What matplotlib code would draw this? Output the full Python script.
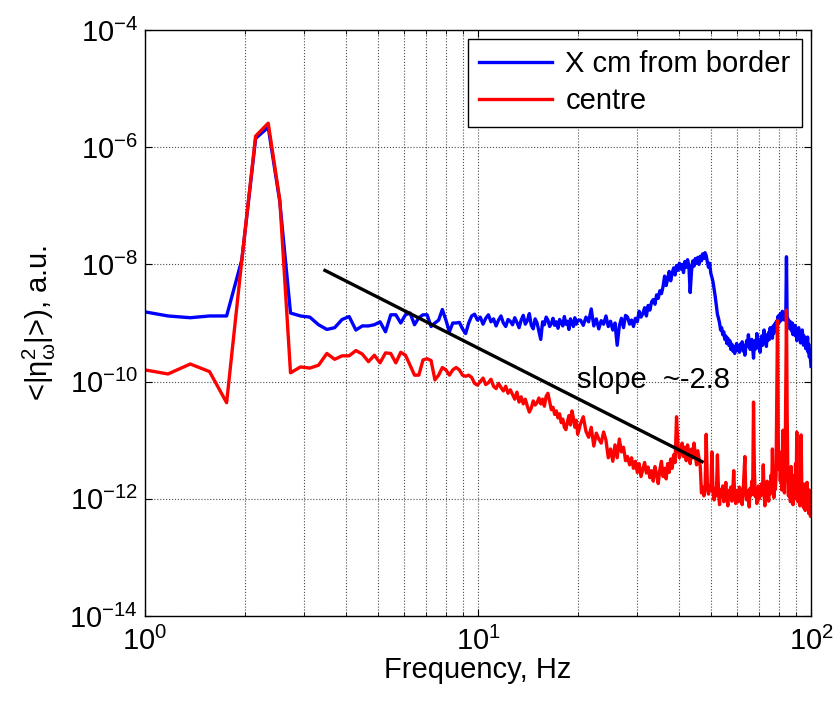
import matplotlib
matplotlib.use("Agg")
import matplotlib.pyplot as plt
import numpy as np
from matplotlib.ticker import FixedLocator, NullLocator, NullFormatter

# spectrum bins (FFT bin index); df = 100/512 Hz
df = 100.0 / 512
bins = np.r_[5:103, 104:513:2]

# log10 of the spectra
blue_log = [
    # k 5..51
    -8.80, -8.88, -8.91, -8.88, -8.88, -7.92, -5.85, -5.66, -6.93, -8.83,
    -8.88, -8.90, -9.03, -9.11, -9.08, -8.94, -8.89, -9.12, -9.05, -9.05,
    -9.03, -8.98, -9.15, -8.86, -8.86, -9.00, -8.86, -8.83, -9.03, -8.91,
    -8.86, -8.86, -9.06, -9.00, -8.95, -8.77, -8.95, -9.15, -9.00, -9.00,
    -8.99, -9.10, -9.18, -9.00, -8.88, -8.85, -8.95,
    # k 52..102
    -8.90, -9.02, -8.92, -8.86, -8.98, -8.93, -9.05, -8.95, -8.88, -9.00,
    -9.06, -8.94, -8.97, -9.03, -8.91, -8.99, -9.08, -8.95, -8.87, -9.02,
    -8.96, -8.84, -9.04, -9.10, -8.93, -9.00, -9.14, -9.28, -8.98, -9.03,
    -8.90, -8.95, -9.06, -9.01, -8.92, -9.04, -8.98, -9.09, -8.94, -9.00,
    -9.05, -8.89, -9.02, -8.97, -9.11, -8.93, -8.99, -9.06, -8.91, -9.02,
    -8.96,
    # k 104..142 step 2
    -8.95, -9.04, -8.90, -8.98, -8.76, -9.05, -8.93, -9.10, -8.96, -9.02,
    -8.88, -9.06, -8.97, -9.12, -9.00, -9.38, -9.05, -8.92, -9.08, -8.87,
    # k 144..188
    -8.90, -9.02, -8.95, -9.06, -8.92, -8.98, -8.80, -8.90, -8.84, -8.74,
    -8.88, -8.70, -8.78, -8.64, -8.60, -8.68, -8.52, -8.58, -8.45, -8.50,
    -8.38, -8.20, -8.36,
    # k 190..250
    -8.25, -8.12, -8.28, -8.15, -8.06, -8.18, -8.02, -8.10, -7.98, -8.08,
    -8.00, -8.14, -7.95, -8.05, -7.92, -8.02, -8.48, -8.12, -7.94, -8.03,
    -7.90, -7.98, -7.88, -8.00, -7.86, -7.94, -7.82, -7.90, -7.80, -7.85,
    -7.96,
    # k 252..306
    -8.05, -7.98, -8.15, -8.22, -8.30, -8.42, -8.55, -8.70, -8.85, -8.92,
    -9.00, -9.12, -9.08, -9.20, -9.15, -9.28, -9.22, -9.35, -9.26, -9.38,
    -9.30, -9.45, -9.36, -9.48, -9.40, -9.52, -9.42, -9.35,
    # k 308..400
    -9.46, -9.40, -9.50, -9.36, -9.44, -9.32, -9.48, -9.38, -9.55, -9.42,
    -9.30, -9.40, -9.20, -9.35, -9.45, -9.38, -9.28, -9.42, -9.60, -9.36,
    -9.30, -9.44, -9.18, -9.34, -9.40, -9.28, -9.50, -9.32, -9.22, -9.38,
    -9.30, -9.12, -9.34, -9.26, -9.40, -9.20, -9.30, -9.16, -9.28, -9.08,
    -9.22, -9.12, -9.26, -9.05, -9.18, -9.02, -9.10,
    # k 402..512
    -8.98, -9.06, -8.94, -8.88, -9.00, -8.90, -8.84, -8.96, -8.86, -8.80,
    -8.92, -8.85, -8.95, -8.88, -8.90, -7.87, -8.95, -8.92, -9.02, -8.96,
    -9.10, -8.98, -9.06, -9.14, -9.00, -9.20, -9.08, -9.16, -9.04, -9.22,
    -9.12, -9.30, -9.14, -9.24, -9.08, -9.26, -9.18, -9.34, -9.20, -9.30,
    -9.12, -9.28, -9.38, -9.22, -9.34, -9.26, -9.44, -9.30, -9.40, -9.24,
    -9.50, -9.36, -9.58, -9.46, -9.62, -9.74,
]

red_log = [
    # k 5..51
    -9.79, -9.87, -9.70, -9.83, -10.36, -7.92, -5.81, -5.59, -6.90, -9.85,
    -9.75, -9.77, -9.72, -9.52, -9.62, -9.56, -9.56, -9.47, -9.53, -9.66,
    -9.55, -9.68, -9.51, -9.52, -9.68, -9.50, -9.55, -9.72, -9.89, -9.89,
    -9.63, -9.61, -9.64, -9.97, -9.89, -9.76, -9.80, -9.89, -9.80, -9.76,
    -9.80, -9.89, -9.91, -9.89, -9.93, -10.03, -10.06,
    # k 52..102
    -10.00, -9.94, -10.05, -10.02, -9.96, -10.08, -10.12, -10.03, -10.10, -10.16,
    -10.08, -10.20, -10.14, -10.22, -10.30, -10.18, -10.35, -10.26, -10.38, -10.30,
    -10.42, -10.52, -10.45, -10.33, -10.40, -10.36, -10.28, -10.38, -10.30, -10.42,
    -10.25, -10.20, -10.34, -10.48, -10.44, -10.56, -10.50, -10.62, -10.55, -10.70,
    -10.64, -10.78, -10.82, -10.68, -10.58, -10.74, -10.50, -10.62, -10.78, -10.66,
    -10.90,
    # k 104..142 step 2
    -10.72, -10.60, -10.85, -10.95, -10.78, -11.10, -10.88, -10.98, -11.05, -10.86,
    -11.00, -11.30, -11.15, -11.36, -11.08, -11.30, -10.98, -11.20, -11.12, -11.35,
    # k 144..188
    -11.28, -11.42, -11.30, -11.48, -11.36, -11.55, -11.40, -11.62, -11.50, -11.38,
    -11.56, -11.46, -11.64, -11.52, -11.70, -11.45, -11.58, -11.74, -11.50, -11.36,
    -11.62, -11.48, -11.66,
    # k 190..250
    -11.40, -11.55, -11.32, -11.48, -11.25, -11.38, -10.60, -11.10, -11.30, -11.18,
    -11.05, -11.28, -11.12, -11.35, -11.08, -11.22, -11.40, -11.15, -11.30, -11.05,
    -11.25, -11.42, -11.18, -11.32, -11.45, -11.90, -11.80, -11.95, -11.85, -10.90,
    -11.75,
    # k 252..306
    -11.92, -11.78, -11.85, -11.20, -11.90, -12.02, -11.82, -11.95, -11.25, -11.88,
    -12.10, -11.84, -11.96, -11.78, -12.05, -11.90, -11.72, -11.98, -12.12, -11.86,
    -11.94, -11.80, -12.04, -11.88, -11.52, -11.95, -12.08, -11.86,
    # k 308..400
    -11.92, -12.05, -11.80, -11.96, -11.84, -12.10, -11.90, -11.60, -11.28, -11.88,
    -12.02, -11.86, -11.98, -12.14, -11.82, -11.94, -11.70, -11.92, -10.35, -11.50,
    -11.96, -11.84, -12.08, -11.90, -11.78, -12.00, -11.86, -11.95, -11.74, -11.88,
    -11.42, -11.90, -12.12, -11.82, -11.96, -11.70, -11.88, -12.04, -11.76, -11.92,
    -11.60, -11.85, -11.15, -11.80, -11.98, -11.70, -11.84,
    # k 402..512
    -11.60, -10.20, -8.96, -10.90, -11.50, -11.20, -11.70, -11.30, -11.85, -11.45,
    -10.83, -11.60, -11.90, -11.40, -10.00, -8.78, -10.50, -11.50, -11.95, -11.55,
    -11.80, -12.05, -11.45, -11.90, -11.70, -12.10, -11.85, -11.60, -12.00, -11.40,
    -11.80, -10.86, -11.75, -12.05, -11.88, -11.65, -12.12, -11.80, -10.91, -11.70,
    -12.02, -11.85, -12.15, -11.75, -11.95, -12.20, -11.82, -12.05, -11.72, -12.10,
    -11.90, -12.25, -11.85, -12.05, -12.30, -11.90,
]

# fitted slope line end points
slope_f = [3.47, 47.1]
slope_p = [7.9e-9, 4.3e-12]

labels = ['X cm from border', 'centre']
xticks = [1, 10, 100]
xminor = [2, 3, 4, 5, 6, 7, 8, 9, 20, 30, 40, 50, 60, 70, 80, 90]
yticks = [1e-14, 1e-12, 1e-10, 1e-8, 1e-6, 1e-4]

plt.rcParams['font.family'] = ['Liberation Sans', 'DejaVu Sans']
plt.rcParams['mathtext.fontset'] = 'custom'
plt.rcParams['mathtext.rm'] = 'Liberation Sans'
plt.rcParams['mathtext.it'] = 'Liberation Sans:italic'
plt.rcParams['mathtext.default'] = 'regular'

freq = bins * df
blue = 10.0 ** np.array(blue_log)
red = 10.0 ** np.array(red_log)

fs = 21

fig = plt.figure(figsize=(8.35, 7.04), dpi=100)
ax = fig.add_axes([0.1737, 0.125, 0.7976, 0.8324])

ax.loglog(freq, blue, color='#0000ff', lw=2.4, label=labels[0])
ax.loglog(freq, red, color='#ff0000', lw=2.4, label=labels[1])
ax.loglog(slope_f, slope_p, color='k', lw=2.4)

ax.text(19.8, 1.07e-10, 'slope  ~-2.8', fontsize=fs, va='center', ha='left')

ax.set_xlim(1, 100)
ax.set_ylim(1e-14, 1e-4)

ax.xaxis.set_major_locator(FixedLocator(xticks))
ax.xaxis.set_minor_locator(FixedLocator(xminor))
ax.xaxis.set_minor_formatter(NullFormatter())
ax.yaxis.set_major_locator(FixedLocator(yticks))
ax.yaxis.set_minor_locator(NullLocator())

ax.grid(True, which='major', axis='both', color='k', ls=':', lw=0.8, alpha=0.7)
ax.grid(True, which='minor', axis='x', color='k', ls=':', lw=0.8, alpha=0.7)

ax.tick_params(which='both', direction='in', top=True, right=True, labelsize=fs)
ax.tick_params(which='major', length=5)
ax.tick_params(which='minor', length=3)
ax.tick_params(axis='x', pad=8)
ax.tick_params(axis='y', pad=5)

for s in ax.spines.values():
    s.set_linewidth(1.0)

ax.set_xlabel('Frequency, Hz', fontsize=fs, labelpad=0)
ax.set_ylabel(r'<|$\eta^2_\omega$|>), a.u.', fontsize=fs)
ax.yaxis.set_label_coords(-0.13, 0.5)

leg = ax.legend(loc='upper right', fontsize=fs, fancybox=False, framealpha=1,
                edgecolor='k', borderaxespad=0.3, handlelength=2.5,
                handletextpad=0.45, labelspacing=0.3, borderpad=0.4)
leg.get_frame().set_linewidth(1.0)

fig.savefig('out.png', dpi=100)
